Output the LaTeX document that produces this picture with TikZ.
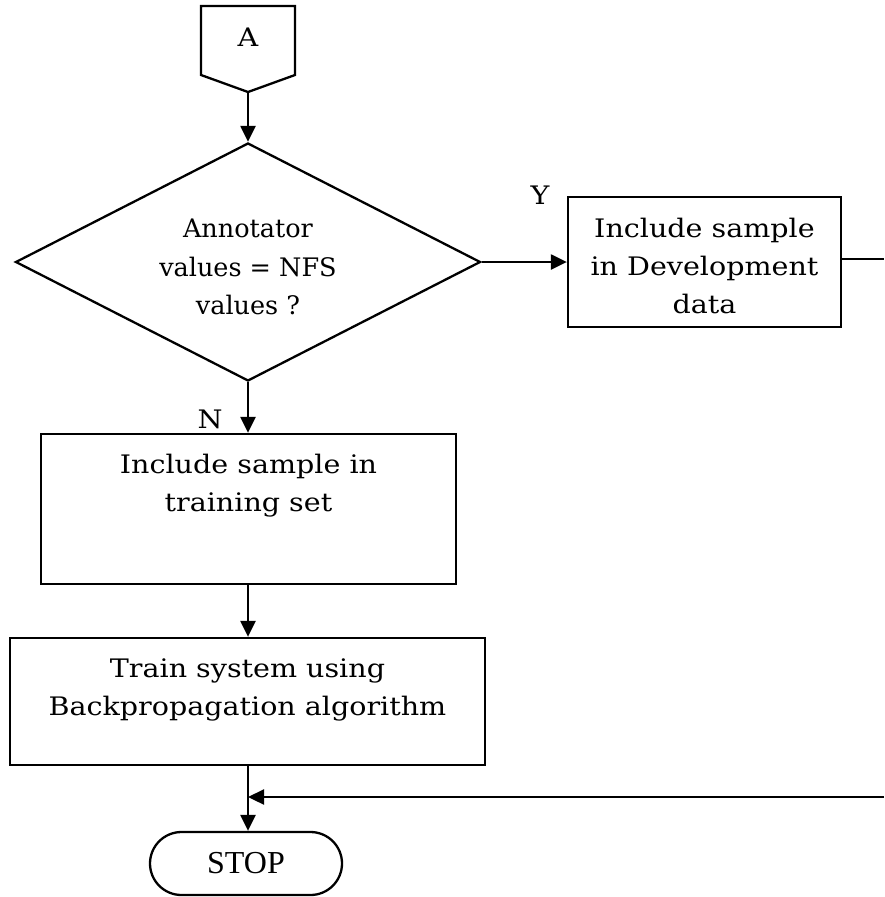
\documentclass[tikz,border=0pt]{standalone}
\usepackage{fontspec}
\setmainfont[FakeStretch=1.12]{DejaVu Serif}
\newfontfamily\narrowfont[FakeStretch=1.0]{DejaVu Serif}
\newfontfamily\stopfont{Liberation Serif}
\usetikzlibrary{arrows.meta,shapes.geometric,shapes.misc}
\begin{document}
\begin{tikzpicture}[x=1pt,y=-1pt,
  line width=2.3pt,
  arr/.style={-{Triangle[length=16pt,width=15pt]}},
  txt/.style={font=\fontsize{25.5}{38}\selectfont, inner sep=0pt, anchor=base},
  dtxt/.style={font=\narrowfont\fontsize{25.5}{38}\selectfont, inner sep=0pt, anchor=base},
  boxx/.style={draw, rectangle, inner sep=0pt}]
\useasboundingbox (0,0) rectangle (884,897);
% A connector
\draw (201,6) -- (295,6) -- (295,75) -- (248,92) -- (201,75) -- cycle;
\node[txt] (A) at (248,46) {A};
\coordinate (Atip) at (248,92);
% decision
\node[draw, diamond, minimum width=465pt, minimum height=238pt, inner sep=0pt, aspect=1.95] (D) at (248,262) {};
\node[dtxt] (Dt1) at (248,237) {Annotator};
\node[dtxt] (Dt2) at (248,276) {values = NFS};
\node[dtxt] (Dt3) at (248,314) {values ?};
% development box
\node[boxx, minimum width=273pt, minimum height=130pt] (Dev) at (704.5,262) {};
\node[txt] (Dev1) at (704.5,237) {Include sample};
\node[txt] (Dev2) at (704.5,275) {in Development};
\node[txt] (Dev3) at (704.5,313) {data};
% training box
\node[boxx, minimum width=415pt, minimum height=150pt] (Tr) at (248.5,509) {};
\node[txt] (Tr1) at (248.5,473) {Include sample in};
\node[txt] (Tr2) at (248.5,511) {training set};
% train system box
\node[boxx, minimum width=475pt, minimum height=127pt] (Sys) at (247.5,701.5) {};
\node[txt] (Sys1) at (247.5,677) {Train system using};
\node[txt] (Sys2) at (247.5,715) {Backpropagation algorithm};
% stop
\node[draw, rounded rectangle, minimum width=192pt, minimum height=63pt, inner sep=0pt, font=\stopfont\fontsize{32}{32}\selectfont] (Stop) at (246,863.5) {STOP};
% labels
\node[txt] (Y) at (540,204) {Y};
\node[txt] (N) at (210,428) {N};
% connectors
\coordinate (R1) at (884,259);
\coordinate (R2) at (884,797);
\coordinate (J) at (248,797);
\draw[arr] (Atip) -- (D.north);
\draw[arr] (D.east) -- (Dev.west |- D.east);
\draw (Dev.east |- R1) -- (R1);
\draw[arr] (D.south) -- (Tr.north -| D.south);
\draw[arr] (Tr.south -| D.south) -- (Sys.north -| D.south);
\draw[arr] (Sys.south -| D.south) -- (Stop.north -| D.south);
\draw[arr] (R2) -- (J);
\end{tikzpicture}
\end{document}
